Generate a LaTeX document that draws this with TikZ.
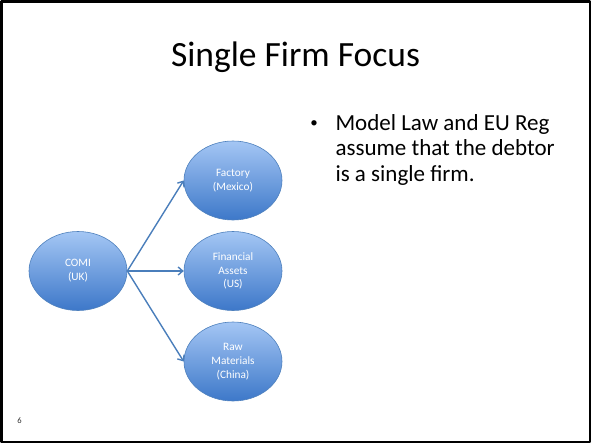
\documentclass[tikz,border=0pt]{standalone}
\usepackage{fontspec}
\setmainfont{Carlito}
\usetikzlibrary{arrows.meta,shapes.geometric}

\definecolor{linkblue}{HTML}{4A7EBB}
\definecolor{toplight}{HTML}{A4C6F4}
\definecolor{botdark}{HTML}{3D78C9}
\definecolor{rimblue}{HTML}{4F81BD}

\tikzset{
  site/.style={ellipse, minimum width=98pt, minimum height=79pt, inner sep=0pt,
    top color=toplight, bottom color=botdark, draw=rimblue, line width=0.6pt,
    text=white, font=\fontsize{11.3}{13.8}\selectfont, align=center},
  link/.style={draw=linkblue, line width=1.4pt, -{Straight Barb[length=4.5pt,width=8pt]}}
}

\begin{document}
\begin{tikzpicture}[x=1pt, y=-1pt, line join=round, line cap=round]
		
		\useasboundingbox (0,0) rectangle (591,445);
		\def\xl{78}
		\def\xr{233}
		\def\ym{271}
		\def\dy{90.5}
		
		% slide frame
		\draw[line width=2.5pt] (1.25,1.25) rectangle (589.75,442);
		
		\node[anchor=base, font=\fontsize{35.5}{40}\selectfont] (title) at (295.5,66) {Single Firm Focus};
		
		% base of a multi-line node is its last line
		\node[anchor=base west, align=left, font=\fontsize{23}{25.5}\selectfont] (text) at (332,181)
		{Model Law and EU Reg\\assume that the debtor\\is a single firm.};
		\node[anchor=base, font=\fontsize{15}{18}\selectfont] (dot) at (314,127) {\textbullet};
		
		\node[site] (comi) at (\xl,\ym) {COMI\\(UK)};
		\node[site] (factory) at (\xr,\ym-\dy) {Factory\\(Mexico)};
		\node[site] (assets) at (\xr,\ym) {Financial\\Assets\\(US)};
		\node[site] (raw) at (\xr,\ym+\dy) {Raw\\Materials\\(China)};
		
		\draw[link] (comi.east) -- (factory.west);
		\draw[link] (comi.east) -- (assets.west);
		\draw[link] (comi.east) -- (raw.west);
		
		\node[font=\fontsize{8.5}{10}\selectfont, text=black!80] (page) at (19.5,421) {6};
		
\end{tikzpicture}
\end{document}
